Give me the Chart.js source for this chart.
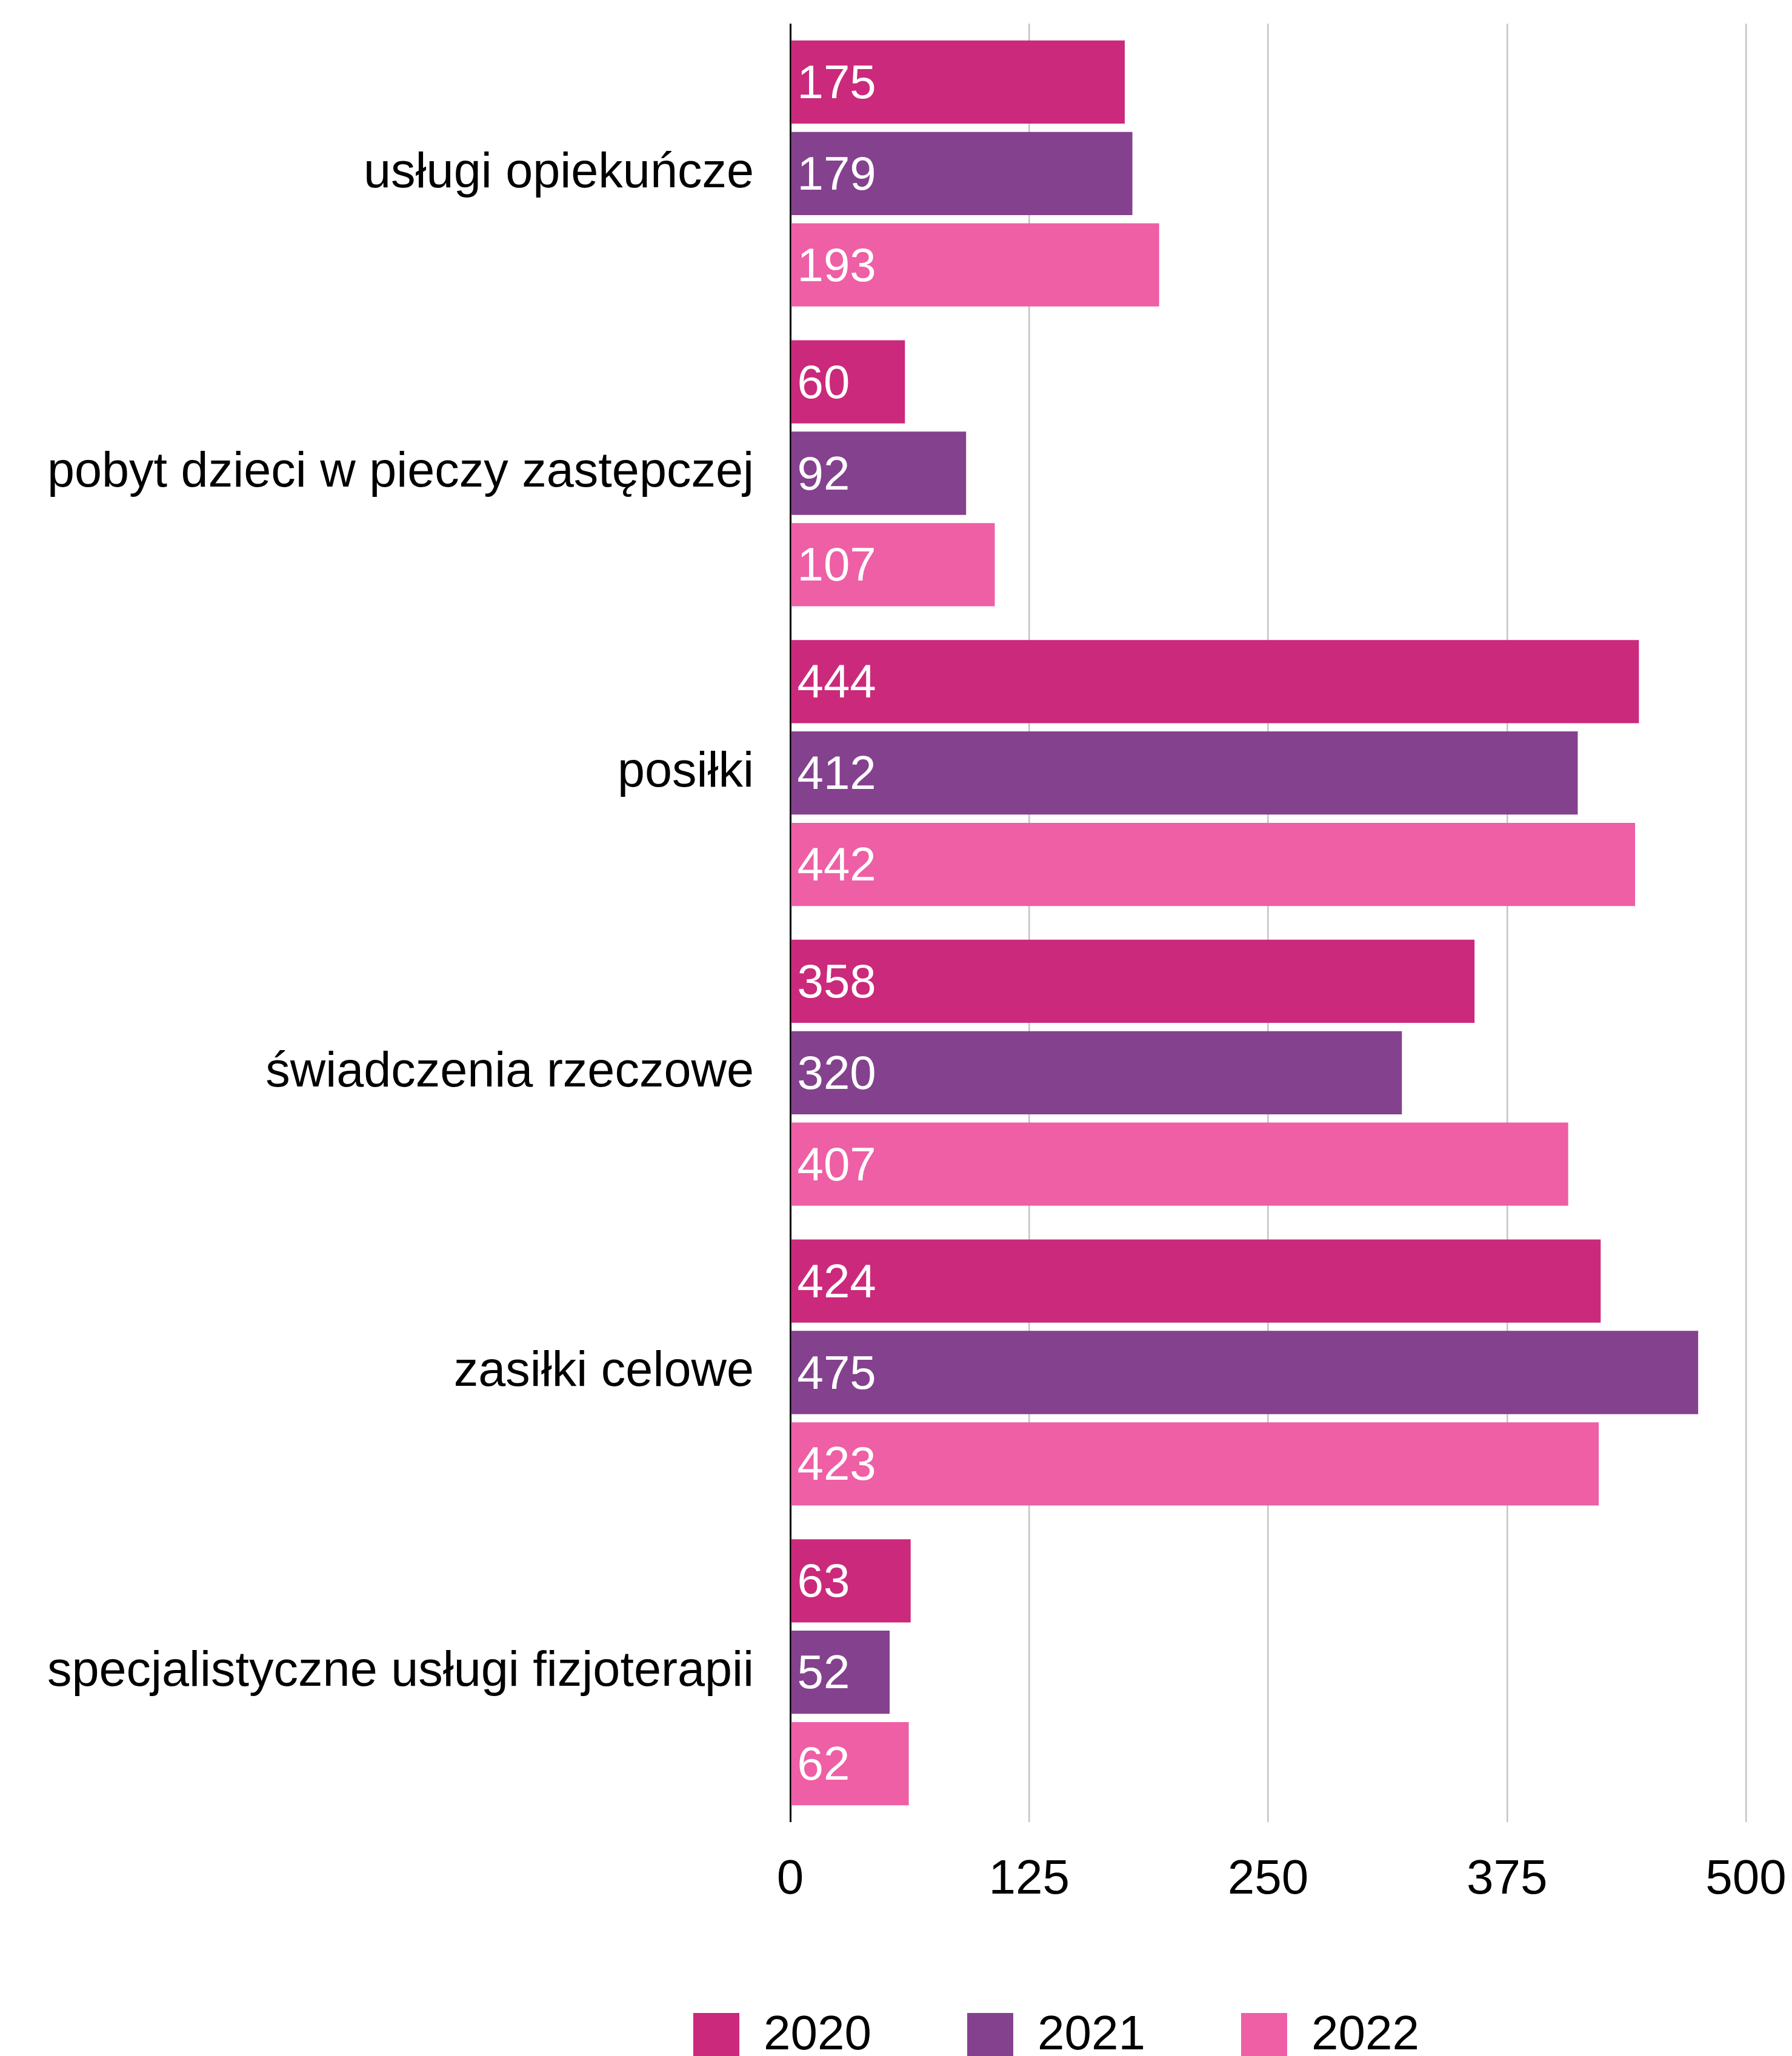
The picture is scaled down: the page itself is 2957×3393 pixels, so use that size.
<!DOCTYPE html>
<html><head><meta charset="utf-8">
<script src="https://cdn.jsdelivr.net/npm/chart.js@4.4.1/dist/chart.umd.min.js"></script>
<style>html,body{margin:0;padding:0;background:#fff;overflow:hidden}canvas{display:block}</style>
</head><body>
<canvas id="c" width="2957" height="3393" style="width:2957px;height:3393px"></canvas>
<script>
const categories = [
  'usługi opiekuńcze',
  'pobyt dzieci w pieczy zastępczej',
  'posiłki',
  'świadczenia rzeczowe',
  'zasiłki celowe',
  'specjalistyczne usługi fizjoterapii'
];
const years = ['2020', '2021', '2022'];
const values2020 = [175, 60, 444, 358, 424, 63];
const values2021 = [179, 92, 412, 320, 475, 52];
const values2022 = [193, 107, 442, 407, 423, 62];
const xTickValues = [0, 125, 250, 375, 500];
const seriesColors = ['#CB297B', '#84418D', '#EE5FA5'];

Chart.defaults.font.family = '"Liberation Sans", Arial, Helvetica, sans-serif';
Chart.defaults.color = '#000';

const valueLabels = {
  id: 'valueLabels',
  afterDatasetsDraw(chart) {
    const ctx = chart.ctx;
    ctx.save();
    ctx.fillStyle = '#fff';
    ctx.font = '78px "Liberation Sans", Arial, sans-serif';
    ctx.textAlign = 'left';
    ctx.textBaseline = 'middle';
    chart.data.datasets.forEach((ds, i) => {
      const meta = chart.getDatasetMeta(i);
      meta.data.forEach((bar, j) => {
        ctx.fillText(String(ds.data[j]), bar.base + 10, bar.y + 5);
      });
    });
    ctx.restore();
  }
};

const legendPlace = {
  id: 'legendPlace',
  afterLayout(chart) {
    const lg = chart.legend;
    lg.left = 986;
    lg.top = 3162;
    lg.bottom = 3500;
  }
};

new Chart(document.getElementById('c'), {
  type: 'bar',
  data: {
    labels: categories,
    datasets: [
      { label: years[0], data: values2020, backgroundColor: seriesColors[0] },
      { label: years[1], data: values2021, backgroundColor: seriesColors[1] },
      { label: years[2], data: values2022, backgroundColor: seriesColors[2] }
    ]
  },
  options: {
    indexAxis: 'y',
    responsive: false,
    animation: false,
    devicePixelRatio: 1,
    categoryPercentage: 0.915,
    barPercentage: 0.91,
    layout: { padding: { top: 39, right: 76, left: 0, bottom: 0 } },
    scales: {
      x: {
        type: 'linear',
        min: 0,
        max: 500,
        afterBuildTicks: s => { s.ticks = xTickValues.map(v => ({ value: v })); },
        afterFit: s => { s.height = 186; s.paddingLeft = 0; s.paddingRight = 0; },
        border: { display: false },
        grid: {
          drawTicks: false,
          color: c => (c.tick && c.tick.value === 0) ? '#000' : '#c4c4c4',
          lineWidth: c => (c.tick && c.tick.value === 0) ? 3 : 2.5
        },
        ticks: { font: { size: 80 }, color: '#000', padding: 48 }
      },
      y: {
        afterFit: s => { s.width = 1304; s.paddingTop = 0; s.paddingBottom = 0; },
        border: { display: false },
        grid: { display: false, drawTicks: false },
        ticks: { font: { size: 81 }, color: '#000', padding: 60 }
      }
    },
    plugins: {
      tooltip: { enabled: false },
      legend: {
        position: 'bottom',
        align: 'start',
        maxHeight: 200,
        labels: {
          boxWidth: 76,
          boxHeight: 76,
          padding: 158,
          color: '#000',
          font: { size: 80 }
        }
      }
    }
  },
  plugins: [valueLabels, legendPlace]
});
</script>
</body></html>
